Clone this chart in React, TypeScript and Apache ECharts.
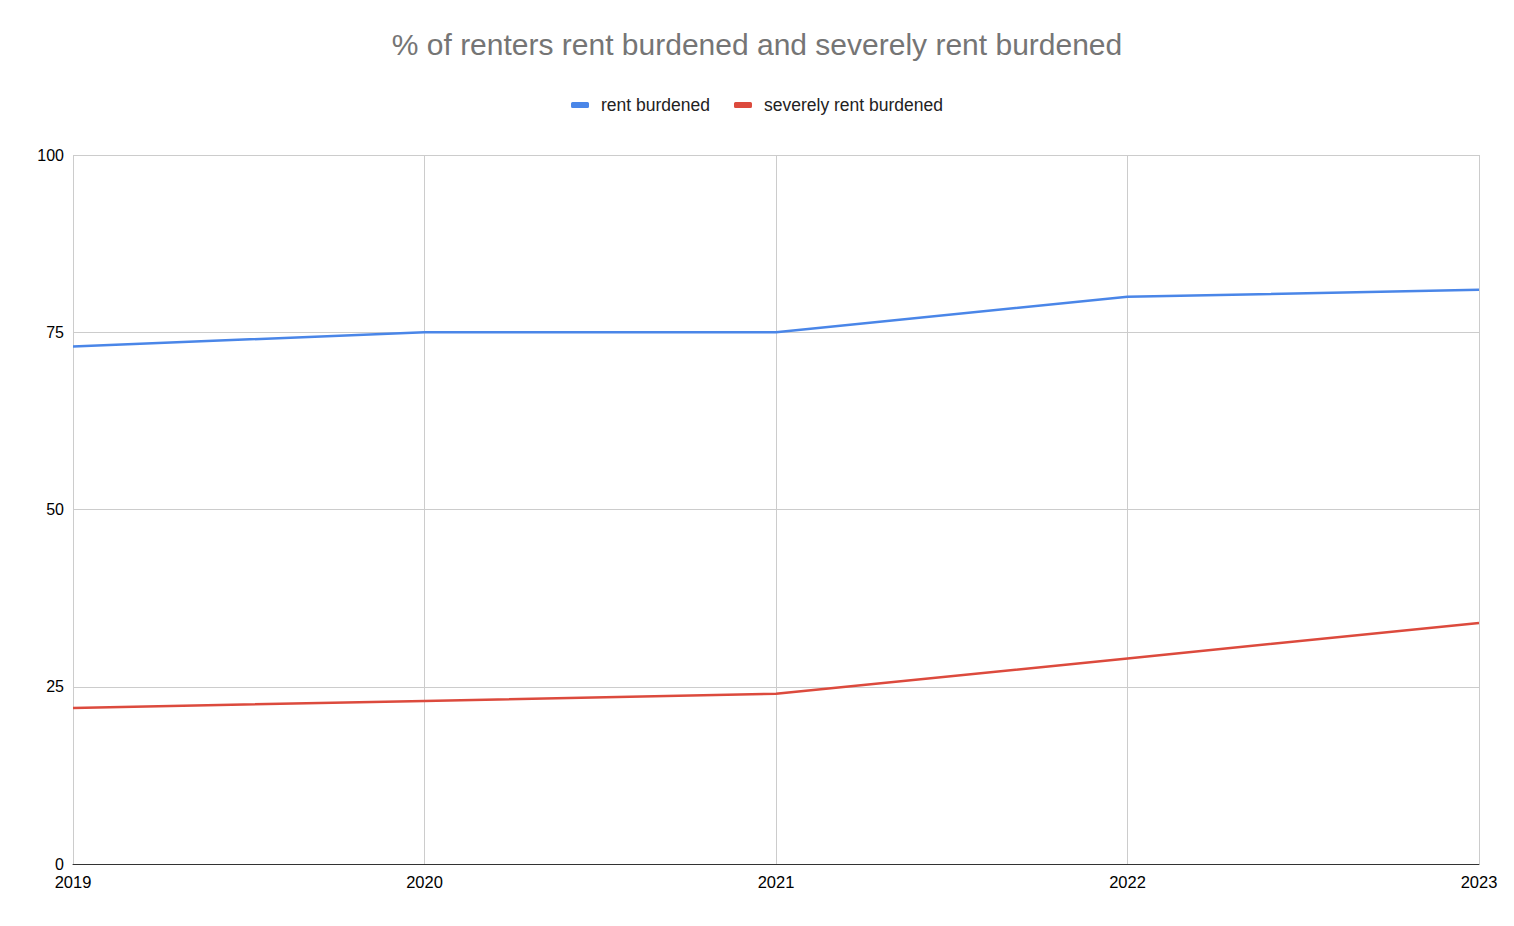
import React, { useEffect, useRef } from "react";
import * as echarts from "echarts";

const years = ["2019", "2020", "2021", "2022", "2023"];
const rentBurdened = [73, 75, 75, 80, 81];
const severelyRentBurdened = [22, 23, 24, 29, 34];
const yTicks = { min: 0, max: 100, interval: 25 };

const FONT = "'Liberation Sans', Arial, sans-serif";

export default function App() {
  const ref = useRef<HTMLDivElement>(null);
  useEffect(() => {
    document.body.style.margin = "0";
    const chart = echarts.init(ref.current!, null, { renderer: "svg" });
    chart.setOption({
      animation: false,
      backgroundColor: "#ffffff",
      textStyle: { fontFamily: FONT },
      title: {
        text: "% of renters rent burdened and severely rent burdened",
        left: "center",
        top: 24,
        textStyle: { fontSize: 30, fontWeight: "normal", color: "#757575", fontFamily: FONT },
      },
      legend: {
        top: 91,
        left: "center",
        itemWidth: 18,
        itemHeight: 6,
        itemGap: 24,
        icon: "roundRect",
        textStyle: { fontSize: 17.5, color: "#222222", fontFamily: FONT, padding: [0, 0, 0, 7] },
        data: ["rent burdened", "severely rent burdened"],
      },
      grid: { left: 73, right: 35, top: 155, bottom: 62, containLabel: false },
      xAxis: {
        type: "category",
        data: years,
        boundaryGap: false,
        axisLine: { show: true, lineStyle: { color: "#333333", width: 1 } },
        axisTick: { show: false },
        axisLabel: { color: "#000000", fontSize: 16.5, margin: 9, showMinLabel: true, showMaxLabel: true, fontFamily: FONT },
        splitLine: { show: true, lineStyle: { color: "#cccccc", width: 1 } },
      },
      yAxis: {
        type: "value",
        min: yTicks.min,
        max: yTicks.max,
        interval: yTicks.interval,
        axisLine: { show: false },
        axisTick: { show: false },
        axisLabel: { color: "#000000", fontSize: 16, margin: 9, fontFamily: FONT },
        splitLine: { show: true, lineStyle: { color: "#cccccc", width: 1 } },
      },
      series: [
        {
          name: "rent burdened",
          type: "line",
          data: rentBurdened,
          showSymbol: false,
          symbol: "none",
          lineStyle: { color: "#4a86e8", width: 2.5 },
          itemStyle: { color: "#4a86e8" },
        },
        {
          name: "severely rent burdened",
          type: "line",
          data: severelyRentBurdened,
          showSymbol: false,
          symbol: "none",
          lineStyle: { color: "#dc4a3d", width: 2.5 },
          itemStyle: { color: "#dc4a3d" },
        },
      ],
    });
    return () => chart.dispose();
  }, []);
  return <div ref={ref} style={{ width: 1514, height: 926 }} />;
}
